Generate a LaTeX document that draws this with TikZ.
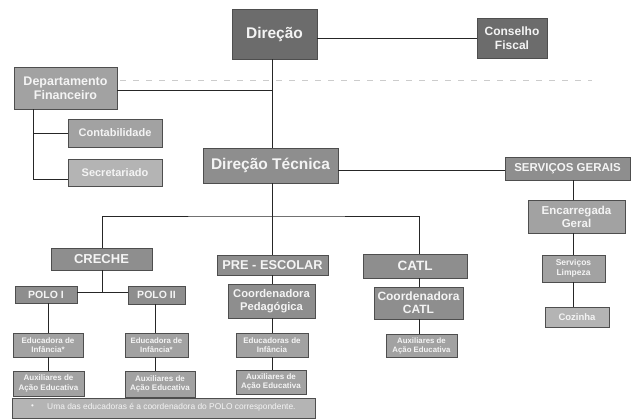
\documentclass[tikz,border=0pt]{standalone}
\usepackage{fontspec}
\setmainfont{Liberation Sans}
\definecolor{boxdark}{HTML}{6C6C6C}
\definecolor{boxmid}{HTML}{8E8E8E}
\definecolor{boxlight}{HTML}{A2A2A2}
\definecolor{boxpale}{HTML}{B4B4B4}
\definecolor{boxline}{HTML}{4E4E4E}
\definecolor{txt}{HTML}{F4F4F4}
\begin{document}
\begin{tikzpicture}[x=1pt,y=-1pt,
  box/.style={draw=boxline, line width=0.6pt, fill=boxmid, text=txt, align=center, inner sep=0pt},
  fsz/.style 2 args={font=\fontsize{#1}{#2}\selectfont\bfseries},
  wh/.style 2 args={minimum width=#1pt, minimum height=#2pt},
  conn/.style={draw=black!85, line width=0.9pt},
  faint/.style={draw=black!20, line width=0.8pt, dash pattern=on 6pt off 7pt}
]
\useasboundingbox (0,0) rectangle (632,419);
\fill[white] (0,0) rectangle (632,419);

% top level
\node[box, fill=boxdark, wh={85}{50}, fsz={15.5}{17}] (dir) at (274.5,34) {Direção};
\node[box, fill=boxdark, wh={70}{40}, fsz={12}{14}] (cf) at (512,38) {Conselho\\Fiscal};
\node[box, fill=boxlight, wh={103}{42}, fsz={12.5}{14}] (df) at (65.5,88) {Departamento\\Financeiro};
\node[box, fill=boxlight, wh={94}{28}, fsz={11}{13}] (cont) at (115,133) {Contabilidade};
\node[box, fill=boxpale, wh={94}{27}, fsz={11}{13}] (sec) at (115,172.5) {Secretariado};
\node[box, wh={135}{35}, fsz={15.5}{17}] (dt) at (270.5,165.5) {Direção Técnica};

% servicos gerais
\node[box, wh={125}{23}, fsz={11.5}{13}] (sg) at (567.5,168.5) {SERVIÇOS GERAIS};
\node[box, fill=boxlight, wh={97}{33}, fsz={11.5}{13}] (eg) at (576.5,216.5) {Encarregada\\Geral};
\node[box, fill=boxlight, wh={63}{27}, fsz={8.5}{10}] (sl) at (573.5,268.5) {Serviços\\Limpeza};
\node[box, fill=boxpale, wh={64}{20}, fsz={9.5}{11}] (coz) at (577,317) {Cozinha};

% creche
\node[box, wh={101}{22}, fsz={13}{15}] (creche) at (101.5,259) {CRECHE};
\node[box, wh={62}{17}, fsz={10.5}{12}] (p1) at (46,294.5) {POLO I};
\node[box, wh={57}{18}, fsz={10.5}{12}] (p2) at (156.5,295) {POLO II};
\node[box, fill=boxlight, wh={70}{24}, fsz={8}{9.5}] (e1) at (48,345) {Educadora de\\Infância*};
\node[box, fill=boxlight, wh={71}{25}, fsz={8}{9.5}] (a1) at (48.5,383.5) {Auxiliares de\\Ação Educativa};
\node[box, fill=boxlight, wh={63}{24}, fsz={7.8}{9.5}] (e2) at (156.5,345) {Educadora de\\Infância*};
\node[box, fill=boxlight, wh={70}{26}, fsz={8}{9.5}] (a2) at (160,384) {Auxiliares de\\Ação Educativa};

% pre-escolar
\node[box, wh={111}{20}, fsz={12.8}{14}] (pre) at (272.5,265) {PRE - ESCOLAR};
\node[box, wh={87}{34}, fsz={11.2}{13}] (cp) at (271.5,301) {Coordenadora\\Pedagógica};
\node[box, fill=boxlight, wh={72}{24}, fsz={8}{9.5}] (ep) at (272,345) {Educadoras de\\Infância};
\node[box, fill=boxlight, wh={70}{24}, fsz={8}{9.5}] (ap) at (271,382) {Auxiliares de\\Ação Educativa};

% catl
\node[box, wh={104}{24}, fsz={13.5}{15}] (catl) at (415,266) {CATL};
\node[box, wh={89}{32}, fsz={12}{13}] (cc) at (418.5,303) {Coordenadora\\CATL};
\node[box, fill=boxlight, wh={71}{23}, fsz={7.8}{9}] (ac) at (421.5,345.5) {Auxiliares de\\Ação Educativa};

% footer
\node[box, fill=boxpale, wh={303}{20}, inner sep=0pt] (foot) at (163.5,408) {};
\node[text=txt, font=\fontsize{8}{9}\selectfont, anchor=west, inner sep=0pt] (fb) at (31,407) {•};
\node[text=txt, font=\fontsize{8.4}{9}\selectfont, anchor=west, inner sep=0pt] (ft) at (47,407) {Uma das educadoras é a coordenadora do POLO correspondente.};

% coordinates
\coordinate (sp) at (272,0);
\coordinate (sgx) at (573,0);
\coordinate (catlx) at (419,0);
\coordinate (crx) at (102,0);
\coordinate (bar) at (0,216);
\coordinate (p1x) at (48,0);
\coordinate (p2x) at (155,0);
\coordinate (dfx) at (33,0);
\coordinate (fa) at (120,80);
\coordinate (fb2) at (592,80);

% faint dashed line
\draw[faint] (fa) -- (fb2);

% connectors
\draw[conn] (cf.west) -- (cf.west -| dir.east);
\draw[conn] (dir.south -| sp) -- (dt.north -| sp);
\draw[conn] (df.east |- 0,90) -- (sp |- 0,90);
\draw[conn] (df.south -| dfx) |- (cont.west);
\draw[conn] (df.south -| dfx) |- (sec.west |- 0,179);
\draw[conn] (sg.west |- 0,170) -- (dt.east |- 0,170);
\draw[conn] (sg.south -| sgx) -- (eg.north -| sgx);
\draw[conn] (eg.south -| sgx) -- (sl.north -| sgx);
\draw[conn] (sl.south -| sgx) -- (coz.north -| sgx);
\draw[conn] (dt.south -| sp) -- (pre.north -| sp);
\draw[conn] (creche.north -| crx) |- (bar -| sp) -| (catl.north -| catlx);
\draw[conn] (creche.south -| crx) -- (crx |- 0,292);
\draw[conn] (p1.east |- 0,292) -- (p2.west |- 0,292);
\draw[conn] (p1.south -| p1x) -- (e1.north -| p1x);
\draw[conn] (e1.south -| p1x) -- (a1.north -| p1x);
\draw[conn] (p2.south -| p2x) -- (e2.north -| p2x);
\draw[conn] (e2.south -| p2x) -- (a2.north -| p2x);
\draw[conn] (pre.south -| sp) -- (cp.north -| sp);
\draw[conn] (cp.south -| sp) -- (ep.north -| sp);
\draw[conn] (ep.south -| sp) -- (ap.north -| sp);
\draw[conn] (catl.south -| catlx) -- (cc.north -| catlx);
\draw[conn] (cc.south -| catlx) -- (ac.north -| catlx);
\end{tikzpicture}
\end{document}
